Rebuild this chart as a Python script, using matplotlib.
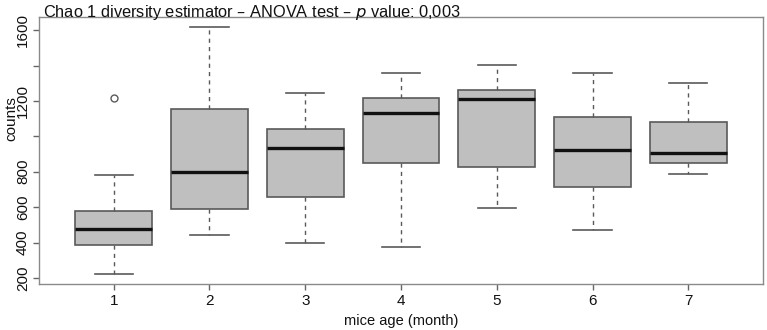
import matplotlib
matplotlib.use("Agg")
import matplotlib.pyplot as plt

plt.rcParams['font.family'] = ['Liberation Sans', 'DejaVu Sans']

ages = ["1", "2", "3", "4", "5", "6", "7"]
whisker_low = [222, 442, 395, 374, 593, 470, 786]
q1 = [387, 588, 657, 850, 828, 712, 850]
median = [479, 798, 935, 1131, 1212, 923, 907]
q3 = [580, 1157, 1043, 1219, 1264, 1111, 1081]
whisker_high = [781, 1618, 1247, 1358, 1403, 1356, 1300]
outliers = [[1216], [], [], [], [], [], []]

y_ticks = [200, 400, 600, 800, 1000, 1200, 1400, 1600]
y_tick_labels = ["200", "400", "600", "800", "", "1200", "", "1600"]

stats = []
for i in range(len(ages)):
    stats.append(dict(label=ages[i], whislo=whisker_low[i], q1=q1[i], med=median[i],
                      q3=q3[i], whishi=whisker_high[i], fliers=outliers[i]))

fig = plt.figure(figsize=(7.67, 3.30), dpi=100)
ax = fig.add_axes([0.0508, 0.1394, 0.9440, 0.8091])

edge = '#5a5a5a'
ax.bxp(stats, positions=range(1, len(ages) + 1), widths=0.8, patch_artist=True,
       boxprops=dict(facecolor='#bfbfbf', edgecolor=edge, linewidth=1.2),
       medianprops=dict(color='#111111', linewidth=2.4),
       whiskerprops=dict(color=edge, linewidth=1.0, linestyle=(0, (3, 3))),
       capprops=dict(color=edge, linewidth=1.2),
       capwidths=0.4,
       flierprops=dict(marker='o', markerfacecolor='none', markeredgecolor=edge,
                       markersize=5, markeredgewidth=1.0))

ax.set_xlim(0.22, 7.78)
ax.set_ylim(166, 1674)
ax.set_yticks(y_ticks)
ax.set_yticklabels(y_tick_labels, rotation=90, va='center')
ax.set_xticks(range(1, len(ages) + 1))
ax.set_xticklabels(ages)

for s in ax.spines.values():
    s.set_color('#8a8a8a')
    s.set_linewidth(1.0)
ax.tick_params(axis='both', colors='#666666', labelcolor='#111111', labelsize=11,
               length=4.5, width=1.0, direction='out')
ax.tick_params(axis='y', pad=2)
ax.tick_params(axis='x', pad=3)

ax.set_xlabel("mice age (month)", fontsize=10.5, color='#111111')
ax.xaxis.set_label_coords(0.5, -0.112)
ax.set_ylabel("counts", fontsize=11, color='#111111')
ax.yaxis.set_label_coords(-0.029, 0.62)

fig.text(0.056, 0.99, "Chao 1 diversity estimator \u2013 ANOVA test \u2013 $\\it{p}$ value: 0,003",
         fontsize=11.8, color='#111111', ha='left', va='top')

fig.savefig("out.png", dpi=100)
